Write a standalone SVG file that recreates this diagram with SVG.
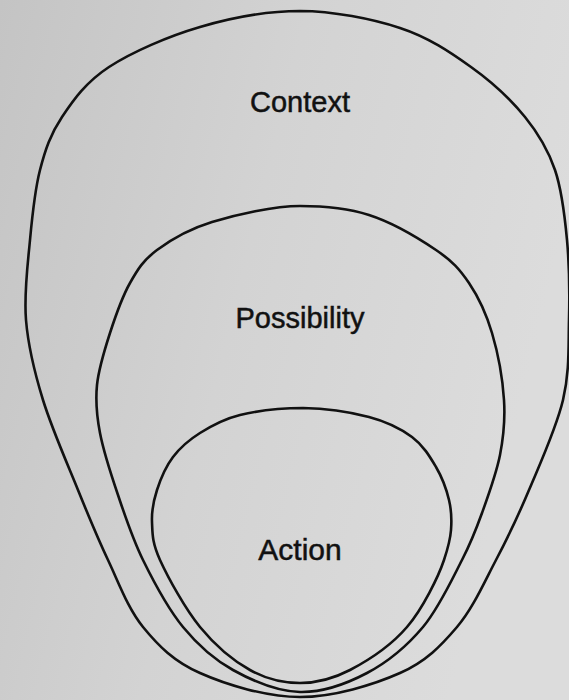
<svg xmlns="http://www.w3.org/2000/svg" width="569" height="700" viewBox="0 0 569 700">
<defs>
<linearGradient id="paper" x1="0" y1="0" x2="1" y2="0.3">
<stop offset="0" stop-color="#c4c4c4"/>
<stop offset="0.5" stop-color="#d3d3d3"/>
<stop offset="1" stop-color="#dcdcdc"/>
</linearGradient>
</defs>
<style>
.ring{fill:none;stroke:#111;stroke-width:2.6;stroke-linejoin:round}
.lbl{font-family:"Liberation Sans",Arial,Helvetica,sans-serif;font-size:29px;fill:#111;stroke:#111;stroke-width:0.5;text-anchor:middle}
</style>
<rect x="0" y="0" width="569" height="700" fill="url(#paper)"/>
<g id="context">
<path class="ring" d="M300,11 C333.3,11.2 371.5,18.7 400,28 C428.5,37.3 450.2,52.2 471,67 C491.8,81.8 511,99.8 525,117 C539,134.2 548,149.5 555,170 C562,190.5 564.7,215 567,240 C569.3,265 569.7,293.3 569,320 C568.3,346.7 569.7,371.7 563,400 C556.3,428.3 540.2,463.3 529,490 C517.8,516.7 508,537.2 496,560 C484,582.8 473,608.2 457,627 C441,645.8 426.2,661.3 400,673 C373.8,684.7 333.3,697 300,697 C266.7,697 226.2,684.7 200,673 C173.8,661.3 158.3,645.8 143,627 C127.7,608.2 118.8,582.8 108,560 C97.2,537.2 88.8,516.7 78,490 C67.2,463.3 51.7,428.3 43,400 C34.3,371.7 28.2,346.7 26,320 C23.8,293.3 27.7,265 30,240 C32.3,215 34.7,190.5 40,170 C45.3,149.5 50.5,134.2 62,117 C73.5,99.8 86,82 109,67 C132,52 168.2,36.3 200,27 C231.8,17.7 266.7,11 300,11 Z"/>
<text class="lbl" x="300" y="112">Context</text>
</g>
<g id="possibility">
<path class="ring" d="M300,206 C326,206 346.3,207.7 369,215 C391.7,222.3 419.3,238.7 436,250 C452.7,261.3 459.7,269.2 469,283 C478.3,296.8 486.2,313.5 492,333 C497.8,352.5 502.7,379.7 504,400 C505.3,420.3 503.7,436.2 500,455 C496.3,473.8 488.3,495.5 482,513 C475.7,530.5 471.8,541 462,560 C452.2,579 438.8,608.2 423,627 C407.2,645.8 387.5,662.2 367,673 C346.5,683.8 322.3,692.5 300,692 C277.7,691.5 252.5,680.8 233,670 C213.5,659.2 198,645.3 183,627 C168,608.7 153.8,582 143,560 C132.2,538 125.2,516.2 118,495 C110.8,473.8 103.5,451.3 100,433 C96.5,414.7 95.3,401.7 97,385 C98.7,368.3 104.5,350 110,333 C115.5,316 122.2,296.8 130,283 C137.8,269.2 143.3,260.2 157,250 C170.7,239.8 188.2,229.3 212,222 C235.8,214.7 274,206 300,206 Z"/>
<text class="lbl" x="300" y="328">Possibility</text>
</g>
<g id="action">
<path class="ring" d="M303,408 C324.5,408.3 350.8,412.2 369,417 C387.2,421.8 400.8,428.7 412,437 C423.2,445.3 429.8,456.5 436,467 C442.2,477.5 446.5,489.5 449,500 C451.5,510.5 451.8,520 451,530 C450.5,537 449,545 444,560 C438.5,576.5 422.7,608.7 407,627 C391.3,645.3 367.8,660.7 350,670 C332.2,679.3 316.7,683 300,683 C283.3,683 266.7,679.3 250,670 C233.3,660.7 215,645.3 200,627 C185,608.7 168,577.5 160,560 C152,542.5 152.5,533.7 152,522 C151.5,510.3 153.5,500.8 157,490 C160.5,479.2 165.8,466.5 173,457 C180.2,447.5 188.8,440 200,433 C211.2,426 222.8,419.2 240,415 C257.2,410.8 281.5,408 303,408 Z"/>
<text class="lbl" x="300" y="560" style="font-size:30px">Action</text>
</g>
</svg>
